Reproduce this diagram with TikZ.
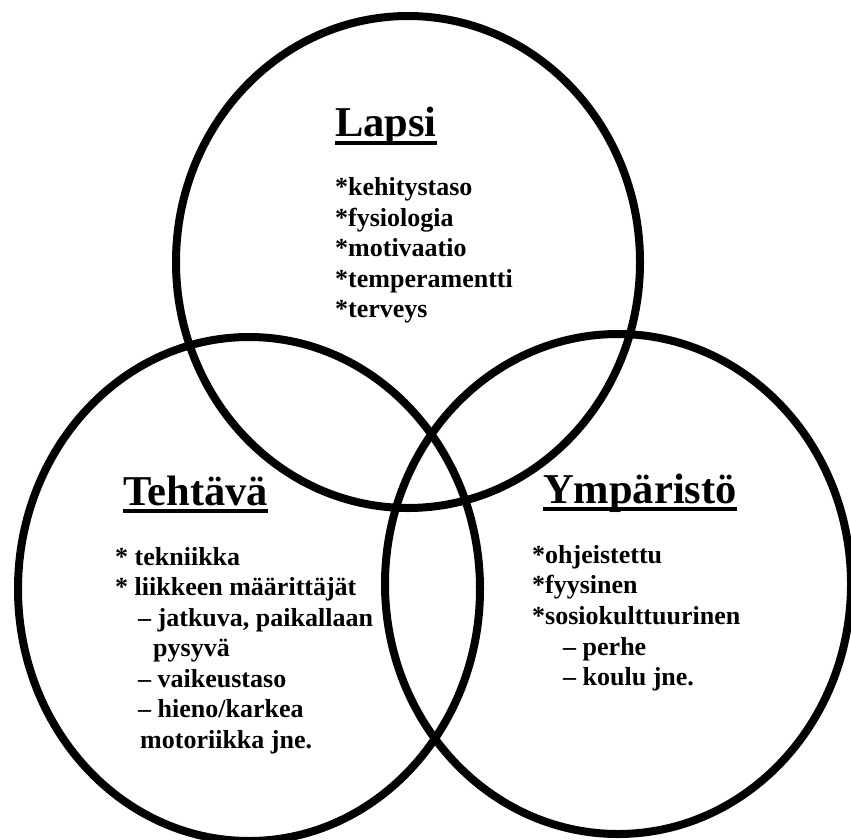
\documentclass[tikz,border=0pt]{standalone}
\usepackage{fontspec}
\setmainfont{Liberation Serif}
\begin{document}
\begin{tikzpicture}[x=1pt,y=-1pt,
  ring/.style={draw=black,line width=8pt},
  title/.style={anchor=base west,inner sep=0pt,font=\fontsize{42.5}{48}\selectfont\bfseries},
  itemtxt/.style={anchor=base west,inner sep=0pt,font=\fontsize{26}{30}\selectfont\bfseries},
  uline/.style={line width=3.5pt}]
\useasboundingbox (0,0) rectangle (851,840);
\clip (0,0) rectangle (851,840);
\fill[white] (0,0) rectangle (851,840);
% circles
\draw[ring] (408,262) ellipse [x radius=232pt, y radius=246pt];
\draw[ring] (249,589) ellipse [x radius=231pt, y radius=252pt];
\draw[ring] (618,584) ellipse [x radius=233pt, y radius=250pt];
% Lapsi
\node[title] (lapsi) at (335,137) {Lapsi};
\draw[uline] ([yshift=-6pt]lapsi.base west) -- ([yshift=-6pt]lapsi.base east);
\node[itemtxt] (l1) at (335,195) {*kehitystaso};
\node[itemtxt] (l2) at (335,226) {*fysiologia};
\node[itemtxt] (l3) at (335,256) {*motivaatio};
\node[itemtxt] (l4) at (335,287) {*temperamentti};
\node[itemtxt] (l5) at (335,317) {*terveys};
% Tehtava
\node[title] (teht) at (123,505) {Tehtävä};
\draw[uline] ([yshift=-6pt]teht.base west) -- ([yshift=-6pt]teht.base east);
\node[itemtxt] (t1) at (115,565) {* tekniikka};
\node[itemtxt] (t2) at (115,595) {* liikkeen määrittäjät};
\node[itemtxt] (t3) at (138,626) {– jatkuva, paikallaan};
\node[itemtxt] (t4) at (153,656) {pysyvä};
\node[itemtxt] (t5) at (138,687) {– vaikeustaso};
\node[itemtxt] (t6) at (138,717) {– hieno/karkea};
\node[itemtxt] (t7) at (140,748) {motoriikka jne.};
% Ymparisto
\node[title] (ymp) at (543,503) {Ympäristö};
\draw[uline] ([yshift=-6pt]ymp.base west) -- ([yshift=-6pt]ymp.base east);
\node[itemtxt] (y1) at (532,563) {*ohjeistettu};
\node[itemtxt] (y2) at (532,593) {*fyysinen};
\node[itemtxt] (y3) at (532,624) {*sosiokulttuurinen};
\node[itemtxt] (y4) at (563,655) {– perhe};
\node[itemtxt] (y5) at (563,685) {– koulu jne.};
\end{tikzpicture}
\end{document}
